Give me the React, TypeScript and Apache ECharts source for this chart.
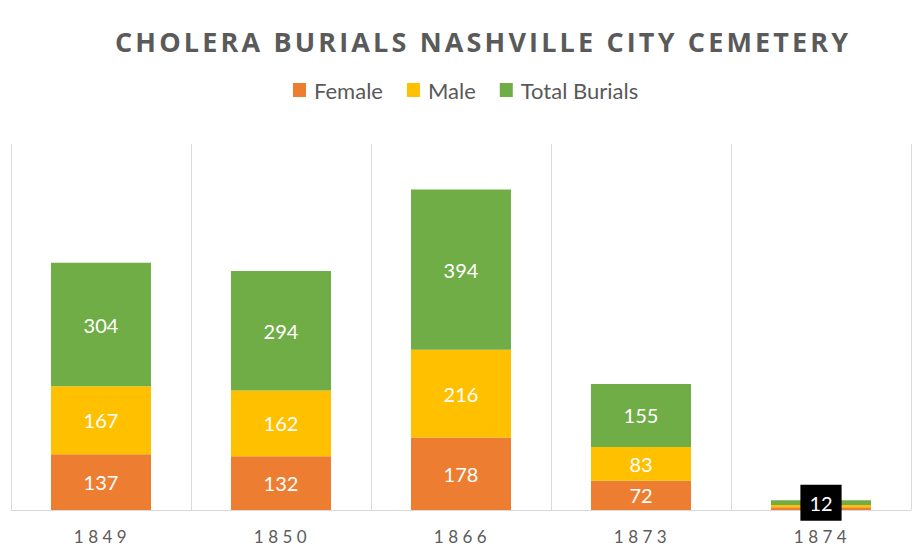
import React, { useEffect, useRef } from "react";
import * as echarts from "echarts";

const categories = ["1849", "1850", "1866", "1873", "1874"];
const female = [137, 132, 178, 72, 7];
const male = [167, 162, 216, 83, 5];
const total = [304, 294, 394, 155, 12];
const seriesNames = ["Female", "Male", "Total Burials"];
const colors = ["#ED7D31", "#FFC000", "#70AD47"];

export default function App() {
  const ref = useRef<HTMLDivElement>(null);
  useEffect(() => {
    if (!ref.current) return;
    const chart = echarts.init(ref.current, undefined, { renderer: "svg" });
    const labelBase = {
      show: true,
      position: "inside",
      color: "#ffffff",
      fontSize: 20,
      fontFamily: "Lato",
    };
    const data = [female, male, total];
    chart.setOption({
      animation: false,
      title: {
        text: "CHOLERA BURIALS NASHVILLE CITY CEMETERY",
        left: 110,
        top: 23,
        textStyle: {
          color: "#5a5a5a",
          fontSize: 27,
          fontWeight: "bold",
          fontFamily: "Open Sans",
        },
      },
      legend: {
        top: 74,
        left: 288,
        itemWidth: 13,
        itemHeight: 14,
        itemGap: 24,
        icon: "rect",
        textStyle: { color: "#595959", fontSize: 22, fontFamily: "Lato", padding: [0, 0, 0, 3] },
        data: seriesNames,
      },
      grid: { left: 11, right: 11, top: 144, bottom: 44 },
      xAxis: {
        type: "category",
        data: categories,
        axisLine: { lineStyle: { color: "#d9d9d9", width: 1 } },
        axisTick: { show: false },
        axisLabel: {
          color: "#5b5b5b",
          fontSize: 17,
          fontFamily: "Lato",
          margin: 18,
          padding: [0, 0, 0, 3],
        },
        splitLine: { show: true, lineStyle: { color: "#d9d9d9", width: 1 } },
      },
      yAxis: {
        type: "value",
        min: 0,
        max: 900,
        show: false,
        splitLine: { show: false },
      },
      series: seriesNames.map((name, i) => ({
        name,
        type: "bar",
        stack: "all",
        barWidth: 100,
        itemStyle: { color: colors[i] },
        data: data[i].map((v, j) => {
          if (j === 4) {
            if (i === 2) {
              return {
                value: v,
                label: {
                  ...labelBase,
                  backgroundColor: "#000000",
                  padding: [9, 9, 7, 9],
                },
              };
            }
            return { value: v, label: { show: false } };
          }
          return v;
        }),
        label: labelBase,
      })),
    });
    return () => chart.dispose();
  }, []);
  return (
    <div>
      <style>{`
        svg text[fill="#5a5a5a"] { letter-spacing: 3.15px; }
        svg text[fill="#5b5b5b"] { letter-spacing: 4.5px; }
      `}</style>
      <div ref={ref} style={{ width: 922, height: 554, position: "absolute", left: 0, top: 0 }} />
    </div>
  );
}
